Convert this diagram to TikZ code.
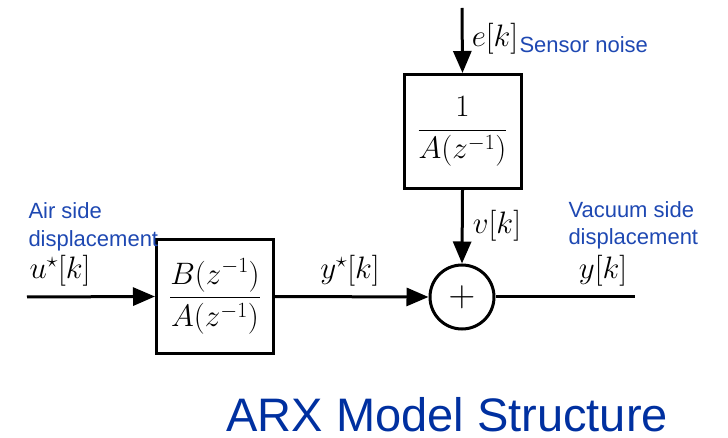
\RequirePackage{fix-cm}
\documentclass[tikz,border=0pt]{standalone}
\usepackage{fontspec}
\setsansfont{Liberation Sans}
\usetikzlibrary{arrows.meta}
\definecolor{lblue}{RGB}{30,72,178}
\definecolor{tblue}{RGB}{0,48,160}
\begin{document}
\begin{tikzpicture}[x=1pt,y=-1pt, line width=3pt,
  blk/.style={draw, minimum width=117pt, minimum height=114pt, inner sep=0pt},
  sumnode/.style={draw, circle, minimum size=64pt, inner sep=0pt},
  sig/.style={-{Triangle[length=22pt,width=18pt]}},
  mfont/.style={font=\fontsize{31}{31}\selectfont},
  mlab/.style={mfont, inner sep=0pt, anchor=base},
  blab/.style={font=\sffamily\fontsize{22}{24}\selectfont, text=lblue, inner sep=0pt, anchor=base west}]
\useasboundingbox (0,0) rectangle (728,438);

% blocks
\node[blk, mfont] (h) at (462.5,131.5) {$\displaystyle\frac{1}{A(z^{-1})}$};
\node[blk, mfont] (g) at (215,296.5) {$\displaystyle\frac{B(z^{-1})}{A(z^{-1})}$};
\node[sumnode, font=\fontsize{37}{37}\selectfont] (sum) at (462,297) {$+$};

% free ends
\coordinate (top) at (462,8);
\coordinate (in) at (27,297);
\coordinate (out) at (635,297);

% connectors
\draw[sig] (top) -- (h.north);
\draw[sig] (h.south) -- (sum.north);
\draw[sig] (in) -- (g.west);
\draw[sig] (g.east) -- (sum.west);
\draw (sum.east) -- (out);

% math labels
\node[mlab] (ek) at (495,47) {$e[k]$};
\node[mlab] (vk) at (497,234) {$v[k]$};
\node[mlab] (uk) at (60,279) {$u^{\star}[k]$};
\node[mlab] (ysk) at (350,279) {$y^{\star}[k]$};
\node[mlab] (yk) at (603,279) {$y[k]$};

% blue annotations
\node[blab] (sn) at (518,53) {Sensor noise};
\node[blab] (air1) at (27,219) {Air side};
\node[blab] (air2) at (27,247) {displacement};
\node[blab] (vac1) at (567,218) {Vacuum side};
\node[blab] (vac2) at (567,245) {displacement};

% title
\node[font=\sffamily\fontsize{47}{50}\selectfont, text=tblue, anchor=base west, inner sep=0pt, text depth=0pt] (title) at (225,431) {ARX Model Structure};
\end{tikzpicture}
\end{document}
